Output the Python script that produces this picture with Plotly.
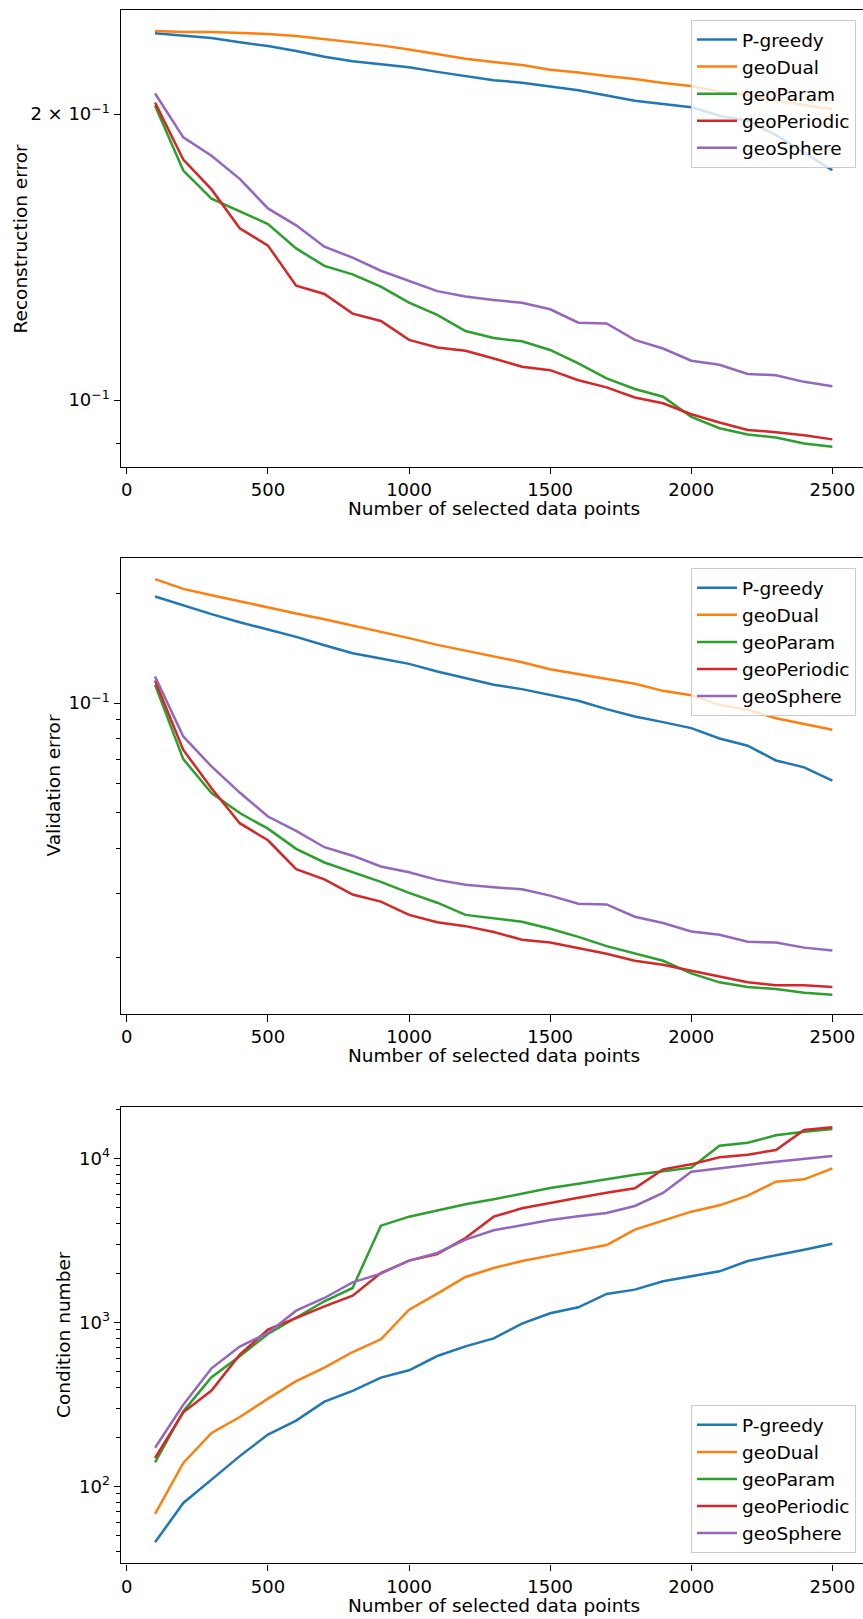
import plotly.graph_objects as go

# Number of selected data points (shared by all three panels)
n_points = [100, 200, 300, 400, 500, 600, 700, 800, 900, 1000, 1100, 1200, 1300,
            1400, 1500, 1600, 1700, 1800, 1900, 2000, 2100, 2200, 2300, 2400, 2500]

methods = ["P-greedy", "geoDual", "geoParam", "geoPeriodic", "geoSphere"]
colors = ["#1f77b4", "#ff7f0e", "#2ca02c", "#d62728", "#9467bd"]

# Reconstruction error
recon_pgreedy = [0.2432, 0.2420, 0.2404, 0.2380, 0.2358, 0.2330, 0.2298, 0.2273, 0.2256, 0.2240, 0.2215, 0.2193, 0.2171,
                 0.2158, 0.2140, 0.2119, 0.2092, 0.2065, 0.2049, 0.2033, 0.1992, 0.1968, 0.1900, 0.1822, 0.1745]
recon_geodual = [0.2446, 0.2440, 0.2440, 0.2434, 0.2428, 0.2416, 0.2399, 0.2380, 0.2362, 0.2338, 0.2313, 0.2287, 0.2269,
                 0.2252, 0.2227, 0.2212, 0.2193, 0.2177, 0.2156, 0.2140, 0.2111, 0.2094, 0.2065, 0.2044, 0.2023]
recon_geoparam = [0.2040, 0.1744, 0.1629, 0.1580, 0.1532, 0.1444, 0.1384, 0.1356, 0.1316, 0.1266, 0.1229, 0.1182, 0.1162,
                  0.1153, 0.1129, 0.1093, 0.1054, 0.1027, 0.1008, 0.0960, 0.0934, 0.0920, 0.0913, 0.0900, 0.0893]
recon_geoperiodic = [0.2056, 0.1791, 0.1666, 0.1516, 0.1454, 0.1319, 0.1293, 0.1233, 0.1211, 0.1157, 0.1136, 0.1127, 0.1106,
                     0.1084, 0.1075, 0.1049, 0.1031, 0.1006, 0.0992, 0.0966, 0.0947, 0.0930, 0.0925, 0.0918, 0.0909]
recon_geosphere = [0.2102, 0.1890, 0.1808, 0.1709, 0.1591, 0.1527, 0.1450, 0.1412, 0.1368, 0.1335, 0.1302, 0.1285, 0.1274,
                   0.1266, 0.1246, 0.1206, 0.1204, 0.1157, 0.1133, 0.1100, 0.1089, 0.1065, 0.1062, 0.1045, 0.1034]

# Validation error
valid_pgreedy = [0.1963, 0.1854, 0.1756, 0.1669, 0.1597, 0.1521, 0.1443, 0.1372, 0.1327, 0.1282, 0.1222, 0.1174, 0.1124,
                 0.1093, 0.1054, 0.1015, 0.0963, 0.0919, 0.0887, 0.0854, 0.0800, 0.0764, 0.0696, 0.0666, 0.0613]
valid_geodual = [0.2191, 0.2061, 0.1980, 0.1903, 0.1835, 0.1763, 0.1701, 0.1635, 0.1577, 0.1509, 0.1446, 0.1393, 0.1346,
                 0.1296, 0.1240, 0.1204, 0.1164, 0.1130, 0.1081, 0.1052, 0.0989, 0.0959, 0.0909, 0.0876, 0.0845]
valid_geoparam = [0.1123, 0.0702, 0.0566, 0.0499, 0.0452, 0.0398, 0.0365, 0.0344, 0.0323, 0.0301, 0.0283, 0.0262, 0.0256,
                  0.0251, 0.0240, 0.0228, 0.0215, 0.0205, 0.0196, 0.0181, 0.0171, 0.0166, 0.0164, 0.0160, 0.0158]
valid_geoperiodic = [0.1154, 0.0744, 0.0584, 0.0468, 0.0420, 0.0350, 0.0328, 0.0298, 0.0285, 0.0262, 0.0250, 0.0244, 0.0235,
                     0.0224, 0.0220, 0.0212, 0.0205, 0.0196, 0.0191, 0.0184, 0.0177, 0.0171, 0.0168, 0.0168, 0.0166]
valid_geosphere = [0.1184, 0.0810, 0.0670, 0.0568, 0.0488, 0.0446, 0.0402, 0.0381, 0.0356, 0.0343, 0.0327, 0.0317, 0.0312,
                   0.0308, 0.0296, 0.0281, 0.0280, 0.0259, 0.0249, 0.0236, 0.0231, 0.0221, 0.0220, 0.0213, 0.0209]

# Condition number
cond_pgreedy = [45.6, 79.3, 110, 153, 207, 252, 329, 382, 461, 511, 624, 715, 800,
                983, 1137, 1237, 1492, 1585, 1781, 1911, 2050, 2371, 2555, 2779, 3023]
cond_geodual = [67.9, 139, 212, 265, 343, 438, 530, 660, 789, 1197, 1498, 1893, 2148,
                2371, 2555, 2753, 2967, 3681, 4196, 4738, 5178, 5933, 7221, 7463, 8708]
cond_geoparam = [140, 287, 463, 622, 850, 1065, 1346, 1623, 3893, 4417, 4805, 5252, 5635,
                 6101, 6605, 7022, 7497, 7965, 8346, 8790, 11967, 12485, 13842, 14572, 15128]
cond_geoperiodic = [149, 283, 384, 636, 904, 1065, 1254, 1457, 2003, 2382, 2616, 3273, 4417,
                    4966, 5377, 5768, 6186, 6576, 8583, 9209, 10160, 10548, 11265, 14918, 15484]
cond_geosphere = [172, 315, 525, 712, 863, 1180, 1410, 1757, 1984, 2382, 2652, 3199, 3646,
                  3930, 4216, 4438, 4650, 5131, 6157, 8308, 8749, 9124, 9561, 9925, 10351]

x_ticks = [0, 500, 1000, 1500, 2000, 2500]

panels = [
    ("x", "y", "legend", [recon_pgreedy, recon_geodual, recon_geoparam, recon_geoperiodic, recon_geosphere]),
    ("x2", "y2", "legend2", [valid_pgreedy, valid_geodual, valid_geoparam, valid_geoperiodic, valid_geosphere]),
    ("x3", "y3", "legend3", [cond_pgreedy, cond_geodual, cond_geoparam, cond_geoperiodic, cond_geosphere]),
]

FONT = "DejaVu Sans"
FS_TICK = 18
FS_TEXT = 18.5
W, H = 863, 1619

fig = go.Figure()
for xa, ya, leg, series in panels:
    for name, col, vals in zip(methods, colors, series):
        fig.add_trace(go.Scatter(
            x=n_points, y=vals, name=name, mode="lines",
            line=dict(color=col, width=2.5),
            xaxis=xa, yaxis=ya, legend=leg,
        ))

x_dom = [121.2 / W, 1.0]
x_rng = [-20, 2608.6]


def px_dom(top, bottom):
    return [1 - bottom / H, 1 - top / H]


dom1 = px_dom(10.3, 466.7)
dom2 = px_dom(558.3, 1014.0)
dom3 = px_dom(1106.5, 1563.3)

axis_line = dict(showline=True, linecolor="black", linewidth=1.4, showgrid=False, zeroline=False,
                 ticks="outside", ticklen=6.5, tickwidth=1.4, tickcolor="black",
                 tickfont=dict(family=FONT, size=FS_TICK, color="black"))


def xaxis(anchor):
    return dict(domain=x_dom, range=x_rng, anchor=anchor, mirror=True,
                tickmode="array", tickvals=x_ticks, ticktext=[str(t) for t in x_ticks],
                **axis_line)


def yaxis(anchor, dom, rng, major, labels, minor):
    return dict(domain=dom, range=rng, type="log", anchor=anchor,
                tickmode="array", tickvals=major, ticktext=labels,
                minor=dict(tickmode="array", tickvals=minor, ticks="outside", ticklen=3.7,
                           tickwidth=1.1, tickcolor="black", showgrid=False),
                **axis_line)


minor2 = [0.02, 0.03, 0.04, 0.05, 0.06, 0.07, 0.08, 0.09, 0.2]
minor3 = [40, 50, 60, 70, 80, 90, 200, 300, 400, 500, 600, 700, 800, 900,
          2000, 3000, 4000, 5000, 6000, 7000, 8000, 9000, 20000]

legend_style = dict(bgcolor="rgba(255,255,255,0.8)", bordercolor="#cccccc", borderwidth=1,
                    font=dict(family=FONT, size=FS_TEXT, color="black"), xanchor="right", x=856 / W,
                    tracegroupgap=0, itemwidth=40)

fig.update_layout(
    width=W, height=H,
    margin=dict(l=0, r=0, t=0, b=0),
    paper_bgcolor="white", plot_bgcolor="white",
    font=dict(family=FONT, size=FS_TICK, color="black"),
    xaxis=xaxis("y"), xaxis2=xaxis("y2"), xaxis3=xaxis("y3"),
    yaxis=yaxis("x", dom1, [-1.0702, -0.5898], [0.1, 0.2],
                ["10<sup>\u22121</sup>", "2 \u00d7 10<sup>\u22121</sup>"], [0.09]),
    yaxis2=yaxis("x2", dom2, [-1.854, -0.602], [0.1], ["10<sup>\u22121</sup>"], minor2),
    yaxis3=yaxis("x3", dom3, [1.531, 4.317], [100, 1000, 10000],
                 ["10<sup>2</sup>", "10<sup>3</sup>", "10<sup>4</sup>"], minor3),
    legend=dict(y=1 - 20 / H, yanchor="top", **legend_style),
    legend2=dict(y=1 - 568.3 / H, yanchor="top", **legend_style),
    legend3=dict(y=1 - 1553.3 / H, yanchor="bottom", **legend_style),
    showlegend=True,
)

# Axis titles
x_center = (121.2 + 866.0) / 2 / W
titles = [
    ("Number of selected data points", x_center, 1 - 508 / H, 0),
    ("Number of selected data points", x_center, 1 - 1055 / H, 0),
    ("Number of selected data points", x_center, 1 - 1605 / H, 0),
    ("Reconstruction error", 20 / W, 1 - 238.5 / H, -90),
    ("Validation error", 53.5 / W, 1 - 786 / H, -90),
    ("Condition number", 63 / W, 1 - 1335 / H, -90),
]
for text, xx, yy, ang in titles:
    fig.add_annotation(text=text, x=xx, y=yy, xref="paper", yref="paper",
                       xanchor="center", yanchor="middle", showarrow=False, textangle=ang,
                       font=dict(family=FONT, size=FS_TEXT, color="black"))

fig.write_html("out.html")
